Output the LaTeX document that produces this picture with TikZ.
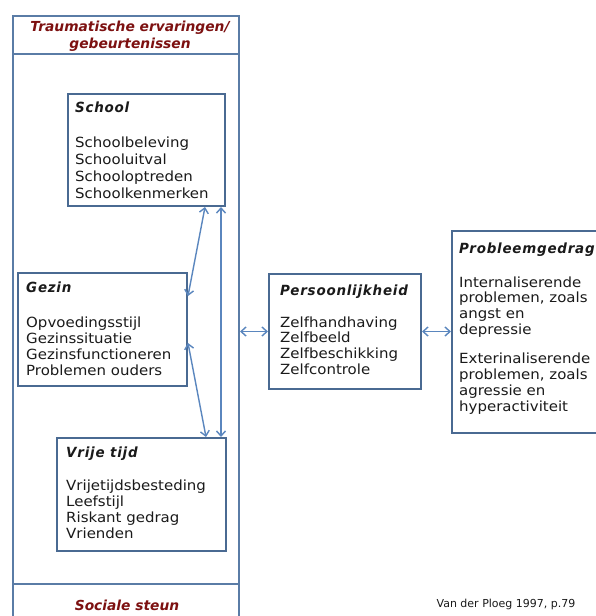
\documentclass[tikz,border=0pt]{standalone}
\usepackage{fontspec}
\setmainfont{DejaVu Sans}[FakeStretch=1.07]
\newfontfamily\ttlfont{DejaVu Sans Bold Oblique}[FakeStretch=0.96,LetterSpace=5.5]
\newfontfamily\redfont{DejaVu Sans}
\usetikzlibrary{arrows.meta,calc}
\definecolor{boxblue}{HTML}{4A6A92}
\definecolor{frameblue}{HTML}{5A7CA6}
\definecolor{arrblue}{HTML}{5A86BE}
\definecolor{darkred}{HTML}{7D1111}
\definecolor{txtgray}{HTML}{1A1A1A}
\begin{document}
\begin{tikzpicture}[x=1pt,y=-1pt,
  box/.style={draw=boxblue,line width=2pt,fill=white,rectangle,inner sep=0pt,anchor=north west},
  frame/.style={draw=frameblue,line width=2pt,rectangle,inner sep=0pt,anchor=north west},
  txt/.style={text=txtgray,inner sep=0pt,anchor=base west,font=\fontsize{14}{16}\selectfont},
  ttl/.style={txt,font=\ttlfont\fontsize{14}{16}\selectfont},
  red/.style={text=darkred,inner sep=0pt,anchor=base,font=\redfont\fontsize{13.8}{16}\selectfont\bfseries\itshape},
  link/.style={draw=arrblue,line width=1.4pt,{Straight Barb[length=5pt,width=9pt]}-{Straight Barb[length=5pt,width=9pt]}}]
\useasboundingbox (0,0) rectangle (596,616);
\clip (0,0) rectangle (596,616);
\fill[white] (0,0) rectangle (596,616);
% outer frame
\node[frame,minimum width=226,minimum height=620] (outer) at (12,15) {};
\coordinate (topl) at (12,54);
\coordinate (botl) at (12,584);
\draw[frameblue,line width=2pt] (topl) -- (topl -| outer.east);
\draw[frameblue,line width=2pt] (botl) -- (botl -| outer.east);
\node[red] (t1) at (130,31) {Traumatische ervaringen/};
\node[red] (t2) at (130,48) {gebeurtenissen};
\node[red] (ss) at (127,610) {Sociale steun};
% boxes
\node[box,minimum width=157,minimum height=112] (school) at (67,93) {};
\node[box,minimum width=169,minimum height=113] (gezin) at (17,272) {};
\node[box,minimum width=169,minimum height=113] (vrije) at (56,437) {};
\node[box,minimum width=152,minimum height=115] (pers) at (268,273) {};
\node[box,minimum width=160,minimum height=202] (prob) at (451,230) {};
% texts
\node[ttl] (schoolt) at (75,112) {School};
\foreach \t [count=\i from 0] in {Schoolbeleving,Schooluitval,Schooloptreden,Schoolkenmerken}
  \node[txt] (school\i) at (75,147+17*\i) {\t};
\node[ttl] (gezint) at (26,292) {Gezin};
\foreach \t [count=\i from 0] in {Opvoedingsstijl,Gezinssituatie,Gezinsfunctioneren,Problemen ouders}
  \node[txt] (gezin\i) at (26,327+16*\i) {\t};
\node[ttl] (vrijet) at (66,457) {Vrije tijd};
\foreach \t [count=\i from 0] in {Vrijetijdsbesteding,Leefstijl,Riskant gedrag,Vrienden}
  \node[txt] (vrije\i) at (66,490+16*\i) {\t};
\node[ttl] (perst) at (280,295) {Persoonlijkheid};
\foreach \t [count=\i from 0] in {Zelfhandhaving,Zelfbeeld,Zelfbeschikking,Zelfcontrole}
  \node[txt] (pers\i) at (280,327+15.7*\i) {\t};
\node[ttl] (probt) at (459,253) {Probleemgedrag};
\foreach \t [count=\i from 0] in {Internaliserende,{problemen, zoals},angst en,depressie}
  \node[txt] (probA\i) at (459,287+15.7*\i) {\t};
\foreach \t [count=\i from 0] in {Exterinaliserende,{problemen, zoals},agressie en,hyperactiviteit}
  \node[txt] (probB\i) at (459,363+16*\i) {\t};
\node[text=txtgray,inner sep=0pt,anchor=base,font=\redfont\fontsize{11}{12}\selectfont] (src) at (506,607) {Van der Ploeg 1997, p.79};
% connectors
\draw[link] (pers.west -| outer.east) -- (pers.west);
\draw[link] (pers.east) -- (pers.east -| prob.west);
\coordinate (vtop) at ($(school.south east)+(-5,0)$);
\draw[link] (vtop) -- (vtop |- vrije.north);
\draw[link] ($(school.south east)+(-21,0)$) -- ($(gezin.north east)+(0,24)$);
\draw[link] ($(gezin.north east)+(0,71)$) -- ($(vrije.north east)+(-21,0)$);
\end{tikzpicture}
\end{document}
